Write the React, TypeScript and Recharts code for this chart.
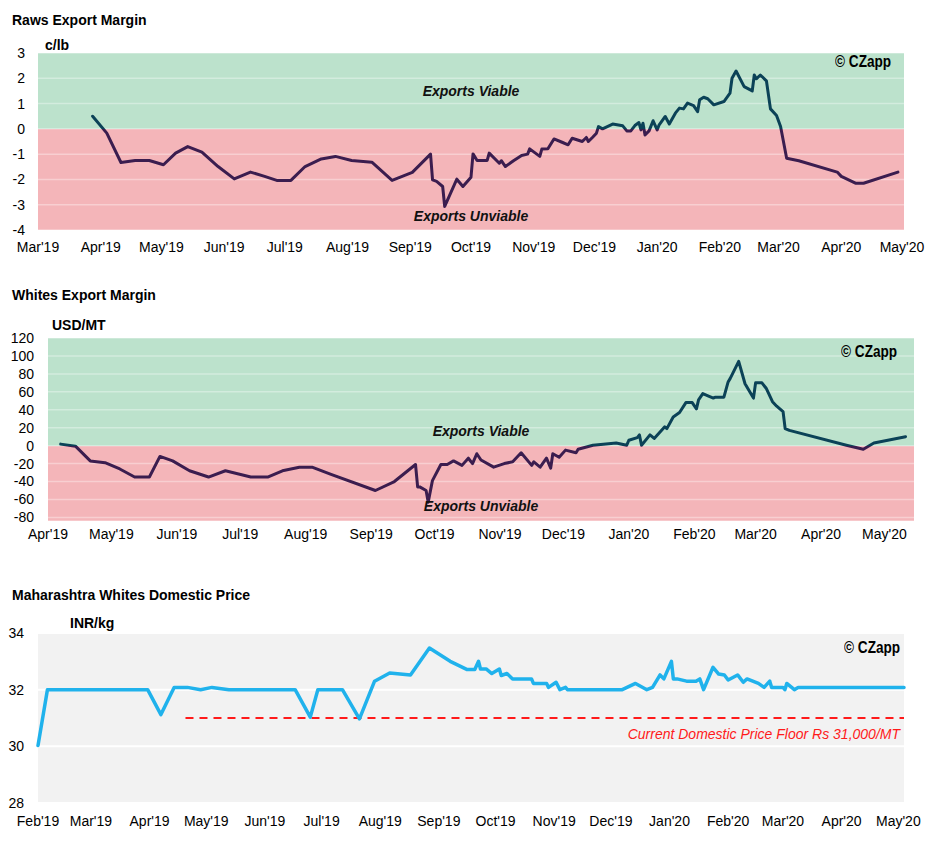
import React from 'react';
import { LineChart, Line, XAxis, YAxis, CartesianGrid, ReferenceArea, ReferenceLine } from 'recharts';

const FONT = "'Liberation Sans', Arial, Helvetica, sans-serif";
const NARROW = "'Liberation Sans Narrow', 'Arial Narrow', 'Liberation Sans', Arial, sans-serif";

const TEAL = '#0b4257';
const PURPLE = '#3b1d4f';
const GREEN = '#bce2cc';
const RED = '#f4b5b9';
const BLUE = '#20b2ec';

// Raws export margin, c/lb
const rawsDates = [
  '2019-03-28', '2019-04-04', '2019-04-11', '2019-04-18', '2019-04-25', '2019-05-02', '2019-05-08', '2019-05-14',
  '2019-05-21', '2019-05-29', '2019-06-06', '2019-06-14', '2019-06-21', '2019-06-27', '2019-07-04', '2019-07-11',
  '2019-07-19', '2019-07-26', '2019-08-03', '2019-08-13', '2019-08-23', '2019-09-02', '2019-09-11', '2019-09-12',
  '2019-09-14', '2019-09-17', '2019-09-18', '2019-09-24', '2019-09-27', '2019-10-01', '2019-10-02', '2019-10-04',
  '2019-10-09', '2019-10-10', '2019-10-15', '2019-10-16', '2019-10-18', '2019-10-22', '2019-10-26', '2019-10-29',
  '2019-10-30', '2019-11-04', '2019-11-05', '2019-11-08', '2019-11-11', '2019-11-15', '2019-11-18', '2019-11-20',
  '2019-11-25', '2019-11-27', '2019-11-28', '2019-11-30', '2019-12-02', '2019-12-03', '2019-12-05', '2019-12-10',
  '2019-12-15', '2019-12-17', '2019-12-19', '2019-12-21', '2019-12-23', '2019-12-24', '2019-12-25', '2019-12-26',
  '2019-12-28', '2019-12-30', '2020-01-01', '2020-01-02', '2020-01-05', '2020-01-07', '2020-01-10', '2020-01-12',
  '2020-01-14', '2020-01-16', '2020-01-19', '2020-01-21', '2020-01-22', '2020-01-24', '2020-01-26', '2020-01-29',
  '2020-02-03', '2020-02-06', '2020-02-07', '2020-02-09', '2020-02-13', '2020-02-17', '2020-02-18', '2020-02-19',
  '2020-02-21', '2020-02-24', '2020-02-26', '2020-02-29', '2020-03-02', '2020-03-05', '2020-03-11', '2020-03-30',
  '2020-04-01', '2020-04-08', '2020-04-12', '2020-04-29',
];
const rawsMargin = [
  0.5, -0.17, -1.33, -1.25, -1.25, -1.42, -0.96, -0.7,
  -0.92, -1.49, -1.98, -1.71, -1.88, -2.04, -2.04, -1.49,
  -1.19, -1.09, -1.25, -1.32, -2.04, -1.72, -1.0, -2.02,
  -2.08, -2.28, -3.07, -1.99, -2.28, -1.91, -0.99, -1.25,
  -1.25, -0.96, -1.36, -1.26, -1.49, -1.26, -1.05, -1.0,
  -0.79, -1.09, -0.8, -0.79, -0.4, -0.53, -0.63, -0.37,
  -0.5, -0.34, -0.5, -0.34, -0.17, 0.09, 0.0, 0.19,
  0.12, -0.08, -0.08, 0.13, 0.25, -0.04, 0.22, -0.24,
  -0.08, 0.32, -0.04, 0.16, 0.49, 0.19, 0.62, 0.82,
  0.79, 1.02, 0.92, 0.68, 1.15, 1.25, 1.19, 0.95,
  1.08, 1.41, 2.0, 2.29, 1.67, 1.5, 2.13, 1.98,
  2.13, 1.9, 0.79, 0.53, 0.09, -1.16, -1.26, -1.71,
  -1.88, -2.15, -2.15, -1.71,
];

// Whites export margin, USD/MT
const whitesDates = [
  '2019-04-07', '2019-04-14', '2019-04-21', '2019-04-28', '2019-05-05', '2019-05-12', '2019-05-19', '2019-05-24',
  '2019-05-30', '2019-06-07', '2019-06-16', '2019-06-24', '2019-07-06', '2019-07-14', '2019-07-21', '2019-07-29',
  '2019-08-04', '2019-08-13', '2019-09-03', '2019-09-12', '2019-09-22', '2019-09-23', '2019-09-24', '2019-09-27',
  '2019-09-28', '2019-09-30', '2019-10-04', '2019-10-07', '2019-10-10', '2019-10-14', '2019-10-17', '2019-10-19',
  '2019-10-21', '2019-10-23', '2019-10-29', '2019-11-03', '2019-11-07', '2019-11-11', '2019-11-16', '2019-11-17',
  '2019-11-20', '2019-11-23', '2019-11-25', '2019-11-26', '2019-11-29', '2019-12-02', '2019-12-07', '2019-12-08',
  '2019-12-15', '2019-12-26', '2019-12-31', '2020-01-01', '2020-01-05', '2020-01-06', '2020-01-07', '2020-01-11',
  '2020-01-13', '2020-01-18', '2020-01-19', '2020-01-22', '2020-01-25', '2020-01-28', '2020-01-31', '2020-02-02',
  '2020-02-03', '2020-02-05', '2020-02-08', '2020-02-10', '2020-02-11', '2020-02-15', '2020-02-17', '2020-02-18',
  '2020-02-22', '2020-02-25', '2020-02-29', '2020-03-01', '2020-03-04', '2020-03-06', '2020-03-09', '2020-03-11',
  '2020-03-14', '2020-03-15', '2020-03-17', '2020-04-13', '2020-04-21', '2020-04-26', '2020-05-11',
];
const whitesMargin = [
  1.7, -0.6, -17, -19, -26, -35, -35, -12,
  -17, -28, -35, -28, -35, -35, -28, -24,
  -24, -32, -50, -40, -21, -46, -46, -50,
  -63, -39, -21, -21, -17, -22, -14, -20,
  -9, -16, -24, -20, -18, -8, -22, -18,
  -24, -14, -25, -9, -13, -5, -8, -4,
  0.5, 3, 0.5, 6, 9, 12, 0.5, 12,
  8, 21, 19, 32, 37, 48, 48, 41,
  51, 58, 55, 53, 54, 54, 71, 75,
  94, 69, 53, 70, 70, 64, 49, 44,
  38, 19, 17, 0.5, -4, 3, 10,
];

// Maharashtra whites domestic price, INR/kg
const domesticDates = [
  '2019-02-01', '2019-02-06', '2019-03-31', '2019-04-07', '2019-04-14', '2019-04-21', '2019-04-28', '2019-05-04',
  '2019-05-13', '2019-06-17', '2019-06-25', '2019-06-29', '2019-07-12', '2019-07-21', '2019-07-29', '2019-08-06',
  '2019-08-17', '2019-08-27', '2019-09-07', '2019-09-16', '2019-09-20', '2019-09-22', '2019-09-23', '2019-09-26',
  '2019-09-29', '2019-10-03', '2019-10-04', '2019-10-07', '2019-10-10', '2019-10-20', '2019-10-21', '2019-10-28',
  '2019-10-29', '2019-11-02', '2019-11-04', '2019-11-07', '2019-11-08', '2019-12-07', '2019-12-14', '2019-12-20',
  '2019-12-23', '2019-12-27', '2019-12-29', '2020-01-02', '2020-01-03', '2020-01-05', '2020-01-10', '2020-01-15',
  '2020-01-17', '2020-01-19', '2020-01-24', '2020-01-27', '2020-01-30', '2020-02-01', '2020-02-06', '2020-02-09',
  '2020-02-11', '2020-02-17', '2020-02-20', '2020-02-23', '2020-02-24', '2020-03-01', '2020-03-02', '2020-03-03',
  '2020-03-07', '2020-03-09', '2020-05-04',
];
const domesticPrice = [
  30.03, 32, 32, 31.12, 32.08, 32.08, 32, 32.08,
  32, 32, 31.03, 32, 32, 30.97, 32.3, 32.59,
  32.52, 33.47, 33.0, 32.71, 32.71, 33.0, 32.73, 32.73,
  32.57, 32.73, 32.5, 32.57, 32.38, 32.38, 32.22, 32.22,
  32.08, 32.26, 32.0, 32.08, 32.0, 32.0, 32.22, 32.0,
  32.08, 32.52, 32.38, 33.0, 32.38, 32.38, 32.3, 32.3,
  32.38, 32.0, 32.79, 32.55, 32.52, 32.34, 32.52, 32.26,
  32.38, 32.22, 32.08, 32.3, 32.08, 32.08, 32.0, 32.22,
  32.0, 32.08, 32.08,
];
const priceFloor = 31;
const floorFrom = '2019-04-20';

// month ticks
const rawsTicks = [
  '2019-03-01', '2019-04-01', '2019-05-01', '2019-06-01', '2019-07-01', '2019-08-01', '2019-09-01', '2019-10-01',
  '2019-11-01', '2019-12-01', '2020-01-01', '2020-02-01', '2020-03-01', '2020-04-01', '2020-05-01',
];
const whitesTicks = rawsTicks.slice(1);
const domesticTicks = ['2019-02-01', ...rawsTicks];

const rawsYTicks = [-4, -3, -2, -1, 0, 1, 2, 3];
const whitesYTicks = [-80, -60, -40, -20, 0, 20, 40, 60, 80, 100, 120];
const domesticYTicks = [28, 30, 32, 34];

const MONTHS = ['Jan', 'Feb', 'Mar', 'Apr', 'May', 'Jun', 'Jul', 'Aug', 'Sep', 'Oct', 'Nov', 'Dec'];
const ts = (d: string) => Date.parse(d + 'T00:00:00Z');
const fmtMonth = (v: number) => {
  const d = new Date(v);
  return `${MONTHS[d.getUTCMonth()]}'${String(d.getUTCFullYear()).slice(2)}`;
};

const toRows = (dates: string[], values: number[]) => dates.map((d, i) => ({ t: ts(d), v: values[i] }));

// where the stroke switches from teal (above 0) to purple (below 0)
const zeroOffset = (values: number[]) => {
  const max = Math.max(...values);
  const min = Math.min(...values);
  return max / (max - min);
};

const tickStyle = { fill: '#000', fontSize: 14, fontFamily: FONT };
const bandLabel = { fill: '#111', fontSize: 14, fontWeight: 700, fontStyle: 'italic', fontFamily: FONT };

function Title({ top, children }: { top: number; children: React.ReactNode }) {
  return (
    <div style={{ position: 'absolute', left: 12, top, fontSize: 14, fontWeight: 700, lineHeight: 'normal', whiteSpace: 'nowrap' }}>
      {children}
    </div>
  );
}

function Unit({ top, left, children }: { top: number; left: number; children: React.ReactNode }) {
  return (
    <div style={{ position: 'absolute', left, top, fontSize: 14, fontWeight: 700, lineHeight: 'normal', whiteSpace: 'nowrap' }}>
      {children}
    </div>
  );
}

// condensed bold watermark
function Copyright({ top, right }: { top: number; right: number }) {
  return (
    <div
      style={{
        position: 'absolute', right: 930 - right, top, fontFamily: NARROW,
        fontSize: 17, fontWeight: 700, lineHeight: 'normal', whiteSpace: 'nowrap',
        transform: 'scaleX(0.8)', transformOrigin: 'right center',
      }}
    >
      © CZapp
    </div>
  );
}

function FloorLabel(props: any) {
  const vb = props.viewBox || {};
  return (
    <text
      x={vb.x + vb.width - 4}
      y={vb.y + 21}
      textAnchor="end"
      fill="#ff1a1a"
      fontSize={14}
      fontStyle="italic"
      fontFamily={FONT}
    >
      Current Domestic Price Floor Rs 31,000/MT
    </text>
  );
}

export default function App() {
  const rawsData = toRows(rawsDates, rawsMargin);
  const whitesData = toRows(whitesDates, whitesMargin);
  const domesticData = toRows(domesticDates, domesticPrice);
  const rawsOff = zeroOffset(rawsMargin);
  const whitesOff = zeroOffset(whitesMargin);

  return (
    <div style={{ position: 'absolute', left: 0, top: 0, width: 930, height: 850, background: '#fff', fontFamily: FONT, color: '#000' }}>
      <Title top={12}>Raws Export Margin</Title>
      <div style={{ position: 'absolute', left: 0, top: 0 }}>
        <LineChart width={930} height={260} data={rawsData} margin={{ top: 53, right: 26, bottom: 10, left: 0 }}>
          <defs>
            <linearGradient id="rawsStroke" x1="0" y1="0" x2="0" y2="1">
              <stop offset={rawsOff} stopColor={TEAL} />
              <stop offset={rawsOff} stopColor={PURPLE} />
            </linearGradient>
          </defs>
          <CartesianGrid
            vertical={false}
            stroke="#ffffff"
            strokeOpacity={0.35}
            strokeWidth={1.5}
            horizontalFill={[GREEN, GREEN, GREEN, RED, RED, RED, RED]}
            fillOpacity={1}
          />
          <XAxis
            type="number"
            dataKey="t"
            domain={[ts('2019-03-01'), ts('2020-05-02')]}
            ticks={rawsTicks.map(ts)}
            tickFormatter={fmtMonth}
            interval={0}
            axisLine={false}
            tickLine={false}
            tickSize={0}
            tickMargin={12}
            height={20}
            tick={tickStyle}
          />
          <YAxis
            type="number"
            domain={[-4, 3]}
            ticks={rawsYTicks}
            interval={0}
            axisLine={false}
            tickLine={false}
            tickSize={0}
            tickMargin={13}
            width={38}
            tick={tickStyle}
          />
          <ReferenceArea y1={0} y2={3} fillOpacity={0} label={{ value: 'Exports Viable', position: 'center', ...bandLabel }} />
          <ReferenceArea y1={-4} y2={0} fillOpacity={0} label={{ value: 'Exports Unviable', position: 'insideBottom', offset: 9, ...bandLabel }} />
          <Line
            type="linear"
            dataKey="v"
            stroke="url(#rawsStroke)"
            strokeWidth={3}
            strokeLinejoin="round"
            strokeLinecap="round"
            dot={false}
            activeDot={false}
            isAnimationActive={false}
          />
        </LineChart>
      </div>
      <Unit top={37} left={45}>c/lb</Unit>
      <Copyright top={52} right={891} />

      <Title top={287}>Whites Export Margin</Title>
      <div style={{ position: 'absolute', left: 0, top: 280 }}>
        <LineChart width={930} height={270} data={whitesData} margin={{ top: 58, right: 16, bottom: 10, left: 0 }}>
          <defs>
            <linearGradient id="whitesStroke" x1="0" y1="0" x2="0" y2="1">
              <stop offset={whitesOff} stopColor={TEAL} />
              <stop offset={whitesOff} stopColor={PURPLE} />
            </linearGradient>
          </defs>
          <CartesianGrid
            vertical={false}
            stroke="#ffffff"
            strokeOpacity={0.35}
            strokeWidth={1.5}
            horizontalFill={[GREEN, GREEN, GREEN, GREEN, GREEN, GREEN, RED, RED, RED, RED, RED]}
            fillOpacity={1}
          />
          <XAxis
            type="number"
            dataKey="t"
            domain={[ts('2019-04-01'), ts('2020-05-15')]}
            ticks={whitesTicks.map(ts)}
            tickFormatter={fmtMonth}
            interval={0}
            axisLine={false}
            tickLine={false}
            tickSize={0}
            tickMargin={8}
            height={19}
            tick={tickStyle}
          />
          <YAxis
            type="number"
            domain={[-84, 120]}
            ticks={whitesYTicks}
            interval={0}
            axisLine={false}
            tickLine={false}
            tickSize={0}
            tickMargin={14}
            width={48}
            tick={tickStyle}
          />
          <ReferenceArea y1={0} y2={120} fillOpacity={0} label={{ value: 'Exports Viable', position: 'insideBottom', offset: 10, ...bandLabel }} />
          <ReferenceArea y1={-84} y2={0} fillOpacity={0} label={{ value: 'Exports Unviable', position: 'insideBottom', offset: 10, ...bandLabel }} />
          <Line
            type="linear"
            dataKey="v"
            stroke="url(#whitesStroke)"
            strokeWidth={3}
            strokeLinejoin="round"
            strokeLinecap="round"
            dot={false}
            activeDot={false}
            isAnimationActive={false}
          />
        </LineChart>
      </div>
      <Unit top={317} left={52}>USD/MT</Unit>
      <Copyright top={342} right={897} />

      <Title top={587}>Maharashtra Whites Domestic Price</Title>
      <div style={{ position: 'absolute', left: 0, top: 580 }}>
        <LineChart width={930} height={265} data={domesticData} margin={{ top: 53, right: 26, bottom: 20, left: 0 }}>
          <CartesianGrid vertical={false} fill="#f2f2f2" fillOpacity={1} stroke="#ffffff" strokeWidth={2} />
          <XAxis
            type="number"
            dataKey="t"
            domain={[ts('2019-02-01'), ts('2020-05-04')]}
            ticks={domesticTicks.map(ts)}
            tickFormatter={fmtMonth}
            interval={0}
            axisLine={false}
            tickLine={false}
            tickSize={0}
            tickMargin={13}
            height={22}
            tick={tickStyle}
          />
          <YAxis
            type="number"
            domain={[28, 34]}
            ticks={domesticYTicks}
            interval={0}
            axisLine={false}
            tickLine={false}
            tickSize={0}
            tickMargin={14}
            width={38}
            tick={tickStyle}
          />
          <ReferenceLine
            segment={[{ x: ts(floorFrom), y: priceFloor }, { x: ts('2020-05-04'), y: priceFloor }]}
            stroke="#ff1a1a"
            strokeWidth={2}
            strokeDasharray="8 6"
            label={<FloorLabel />}
          />
          <Line
            type="linear"
            dataKey="v"
            stroke={BLUE}
            strokeWidth={3.5}
            strokeLinejoin="round"
            strokeLinecap="round"
            dot={false}
            activeDot={false}
            isAnimationActive={false}
          />
        </LineChart>
      </div>
      <Unit top={615} left={70}>INR/kg</Unit>
      <Copyright top={638} right={900} />
    </div>
  );
}
